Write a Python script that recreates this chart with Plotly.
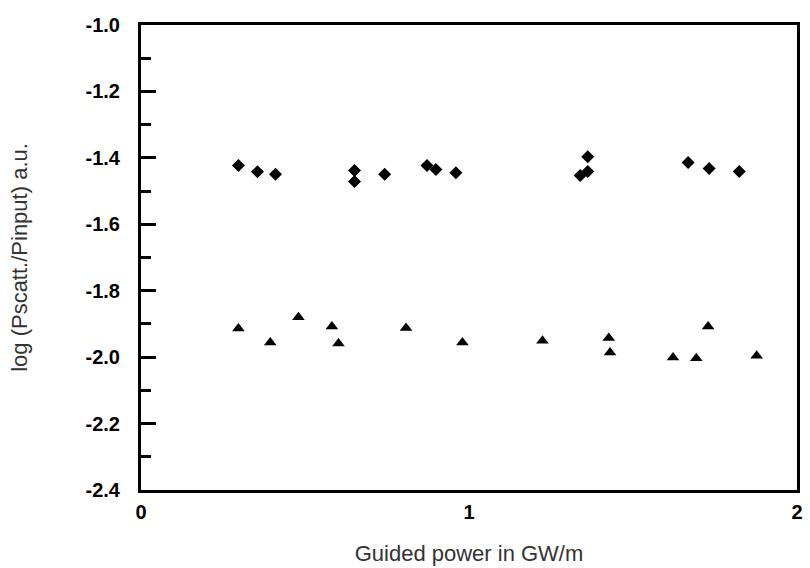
import plotly.graph_objects as go

# Diamonds (upper series)
diamond_x = [0.297, 0.355, 0.410, 0.651, 0.651, 0.743, 0.872, 0.899, 0.960,
             1.362, 1.339, 1.362, 1.668, 1.732, 1.824]
diamond_y = [-1.423, -1.442, -1.449, -1.438, -1.471, -1.449, -1.423, -1.435, -1.445,
             -1.397, -1.453, -1.441, -1.414, -1.432, -1.441]

# Triangles (lower series)
tri_x = [0.297, 0.394, 0.480, 0.582, 0.602, 0.808, 0.980, 1.224,
         1.426, 1.430, 1.622, 1.693, 1.729, 1.877]
tri_y = [-1.914, -1.956, -1.880, -1.908, -1.959, -1.912, -1.956, -1.951,
         -1.942, -1.986, -2.001, -2.003, -1.908, -1.996]

x_ticks = [0, 1, 2]
x_ticktext = ["0", "1", "2"]
y_ticks = [-1.0, -1.2, -1.4, -1.6, -1.8, -2.0, -2.2, -2.4]
y_ticktext = ["-1.0", "-1.2", "-1.4", "-1.6", "-1.8", "-2.0", "-2.2", "-2.4"]
y_minor = [-1.1, -1.3, -1.5, -1.7, -1.9, -2.1, -2.3]

fig = go.Figure()
fig.add_trace(go.Scatter(x=diamond_x, y=diamond_y, mode="markers",
                         marker=dict(symbol="diamond", size=10, color="black"),
                         showlegend=False))
fig.add_trace(go.Scatter(x=tri_x, y=tri_y, mode="markers",
                         marker=dict(symbol="triangle-up", size=11, color="black"),
                         showlegend=False))

tick_font = dict(family="Liberation Sans, Arial, sans-serif", size=20, color="black",
                 weight="bold")
title_font = dict(family="Liberation Sans, Arial, sans-serif", size=22, color="#333333")

fig.update_layout(
    width=810, height=568,
    margin=dict(l=141, r=13, t=25, b=78),
    plot_bgcolor="white", paper_bgcolor="white",
    xaxis=dict(range=[0, 2], tickvals=x_ticks, ticktext=x_ticktext,
               showgrid=False, zeroline=False, showline=True, mirror=True,
               linecolor="black", linewidth=3, ticks="", automargin=False,
               tickfont=tick_font, ticklabelstandoff=2,
               title=dict(text="Guided power in GW/m", font=title_font, standoff=24)),
    yaxis=dict(range=[-2.4, -1.0], tickvals=y_ticks, ticktext=y_ticktext,
               showgrid=False, zeroline=False, showline=True, mirror=True,
               linecolor="black", linewidth=3, ticks="inside", ticklen=15,
               tickwidth=3, tickcolor="black", automargin=False,
               minor=dict(tickvals=y_minor,
                          ticks="inside", ticklen=10, tickwidth=3, tickcolor="black"),
               tickfont=tick_font, ticklabelstandoff=14,
               title=dict(text="log (Pscatt./Pinput) a.u.", font=title_font, standoff=52)),
)

fig.write_html("out.html")
